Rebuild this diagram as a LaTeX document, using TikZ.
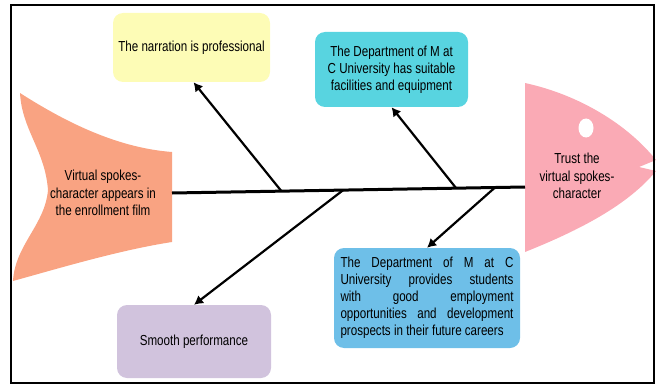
\documentclass[tikz,border=0pt]{standalone}
\usepackage{fontspec}
\setmainfont{Liberation Sans}[FakeStretch=0.8]
\usetikzlibrary{arrows.meta,calc}
\definecolor{narrationColor}{RGB}{253,252,182}
\definecolor{facilityColor}{RGB}{88,212,224}
\definecolor{performanceColor}{RGB}{209,195,221}
\definecolor{careerColor}{RGB}{110,191,232}
\definecolor{tailColor}{RGB}{249,163,130}
\definecolor{headColor}{RGB}{250,170,181}
\tikzset{factor/.style={align=center, rounded corners=10pt, inner sep=2pt, font=\fontsize{14.5}{17}\selectfont}}
\tikzset{fishtext/.style={align=center, inner sep=0pt, font=\fontsize{14.5}{17.5}\selectfont}}
\tikzset{bone/.style={line width=2.2pt, -{Latex[length=9pt,width=10pt]}}}

\begin{document}
\begin{tikzpicture}[x=1pt, y=-1pt]
\useasboundingbox (0,0) rectangle (658,385);

% Fish
\fill[tailColor] (20,93) .. controls (70,125) and (120,148) .. (172,152) -- (172,242)
  .. controls (120,250) and (60,268) .. (13,281)
  .. controls (15,245) and (45,225) .. (48,190)
  .. controls (45,150) and (22,130) .. (20,93) -- cycle;
\fill[headColor] (525,83) .. controls (580,95) and (628,125) .. (656,160) -- (639,167) -- (656,171)
  .. controls (628,205) and (580,230) .. (525,252) -- cycle;
\fill[white] (586,128) ellipse [x radius=7.5, y radius=9.5];

% Nodes
\node (SpokesCharacter) [fishtext] at (103,193) {Virtual spokes-\\character appears in\\the enrollment film};
\node (Trust) [fishtext] at (577,176) {Trust the\\virtual spokes-\\character};

\node (Narration) [factor, fill=narrationColor, minimum width=157pt, minimum height=69pt] at (191.5,47.5) {The narration is professional};
\node (Facilities) [factor, fill=facilityColor, minimum width=153pt, minimum height=75pt] at (391.5,69.5) {The Department of M at\\C University has suitable\\facilities and equipment};
\node (Performance) [factor, fill=performanceColor, minimum width=154pt, minimum height=73pt] at (194,341.5) {Smooth performance};
\node (Careers) [factor, fill=careerColor, align=left, minimum width=186pt, minimum height=100pt] at (427,298)
  {\makebox[173pt][s]{The Department of M at C}\\
   \makebox[173pt][s]{University provides students}\\
   \makebox[173pt][s]{with good employment}\\
   \makebox[173pt][s]{opportunities and development}\\
   \makebox[173pt][l]{prospects in their future careers}};

% Spine
\coordinate (TailEnd) at (172,193);
\coordinate (HeadStart) at (525,187);
\draw[line width=3pt] (TailEnd) -- (HeadStart);

\coordinate (BoneA) at ($(TailEnd)!0.31!(HeadStart)$);
\coordinate (BoneB) at ($(TailEnd)!0.485!(HeadStart)$);
\coordinate (BoneC) at ($(TailEnd)!0.805!(HeadStart)$);
\coordinate (BoneD) at ($(TailEnd)!0.915!(HeadStart)$);

% Connectors
\draw[bone] (BoneA) -- ([xshift=2pt]Narration.south);
\draw[bone] (BoneB) -- (Performance.north);
\draw[bone] (BoneC) -- (Facilities.south);
\draw[bone] (BoneD) -- (Careers.north);

% Frame
\draw[line width=2pt] (11,5) rectangle (654,383);
\end{tikzpicture}
\end{document}
